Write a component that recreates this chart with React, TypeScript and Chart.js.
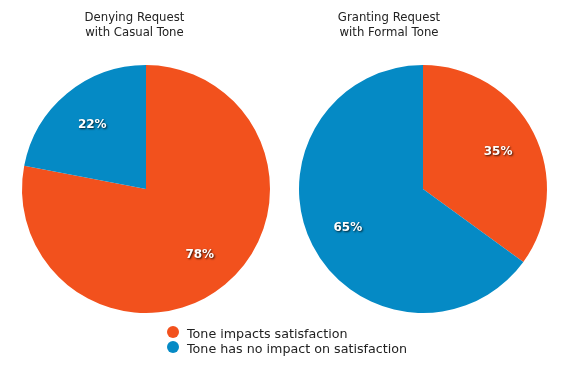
import React, { useEffect, useRef } from "react";
import { Chart, registerables } from "chart.js";

Chart.register(...registerables);

const categories = ["Tone impacts satisfaction", "Tone has no impact on satisfaction"];
const colors = ["#F2511D", "#058AC5"];
const leftTitle = ["Denying Request", "with Casual Tone"];
const rightTitle = ["Granting Request", "with Formal Tone"];
const leftValues = [78, 22];
const rightValues = [35, 65];

const FONT = '"DejaVu Sans", Verdana, sans-serif';

const labelPlugin = {
  id: "sliceLabels",
  afterDatasetsDraw(chart: any) {
    const ctx = chart.ctx;
    const meta = chart.getDatasetMeta(0);
    const data = chart.data.datasets[0].data as number[];
    meta.data.forEach((arc: any, i: number) => {
      const p = arc.getProps(["startAngle", "endAngle", "outerRadius", "x", "y"], true);
      const mid = (p.startAngle + p.endAngle) / 2;
      const r = p.outerRadius * 0.68;
      const px = p.x + Math.cos(mid) * r;
      const py = p.y + Math.sin(mid) * r + 1;
      ctx.save();
      ctx.font = `bold 12px ${FONT}`;
      ctx.textAlign = "center";
      ctx.textBaseline = "middle";
      ctx.shadowColor = "rgba(0,0,0,0.8)";
      ctx.shadowOffsetX = 1;
      ctx.shadowOffsetY = 1;
      ctx.shadowBlur = 2;
      ctx.fillStyle = "#ffffff";
      ctx.fillText(`${data[i]}%`, px, py);
      ctx.restore();
    });
  },
};

function PieCanvas({ values, padding }: { values: number[]; padding: any }) {
  const ref = useRef<HTMLCanvasElement | null>(null);
  useEffect(() => {
    if (!ref.current) return;
    const chart = new Chart(ref.current, {
      type: "pie",
      data: {
        labels: categories,
        datasets: [
          {
            data: values,
            backgroundColor: colors,
            borderWidth: 0,
          },
        ],
      },
      options: {
        responsive: false,
        animation: false,
        layout: { padding },
        plugins: {
          legend: { display: false },
          title: { display: false },
          tooltip: { enabled: false },
        },
      },
      plugins: [labelPlugin],
    });
    return () => chart.destroy();
  }, []);
  return <canvas ref={ref} width={284} height={369} style={{ display: "block", width: 284, height: 369 }} />;
}

function Title({ lines, center }: { lines: string[]; center: number }) {
  return (
    <div
      style={{
        position: "absolute",
        left: center - 100,
        top: 9.5,
        width: 200,
        textAlign: "center",
        font: `11.7px ${FONT}`,
        lineHeight: "15.6px",
        color: "#222",
      }}
    >
      {lines.map((l, i) => (
        <div key={i}>{l}</div>
      ))}
    </div>
  );
}

export default function App() {
  return (
    <div
      style={{
        position: "fixed",
        left: 0,
        top: 0,
        width: 568,
        height: 369,
        background: "#fff",
        overflow: "hidden",
      }}
    >
      <div style={{ position: "absolute", left: 0, top: 0 }}>
        <PieCanvas values={leftValues} padding={{ left: 22, right: 14, top: 65, bottom: 56 }} />
      </div>
      <div style={{ position: "absolute", left: 284, top: 0 }}>
        <PieCanvas values={rightValues} padding={{ left: 15, right: 21, top: 65, bottom: 56 }} />
      </div>
      <Title lines={leftTitle} center={134.5} />
      <Title lines={rightTitle} center={389} />
      {categories.map((c, i) => (
        <div key={c}>
          <span
            style={{
              position: "absolute",
              left: 167,
              top: 325.7 + i * 15.3,
              width: 12,
              height: 12,
              borderRadius: "50%",
              background: colors[i],
            }}
          />
          <div
            style={{
              position: "absolute",
              left: 187,
              top: 326 + i * 15,
              font: `12.7px ${FONT}`,
              lineHeight: "15px",
              color: "#222",
              whiteSpace: "nowrap",
            }}
          >
            {c}
          </div>
        </div>
      ))}
    </div>
  );
}
